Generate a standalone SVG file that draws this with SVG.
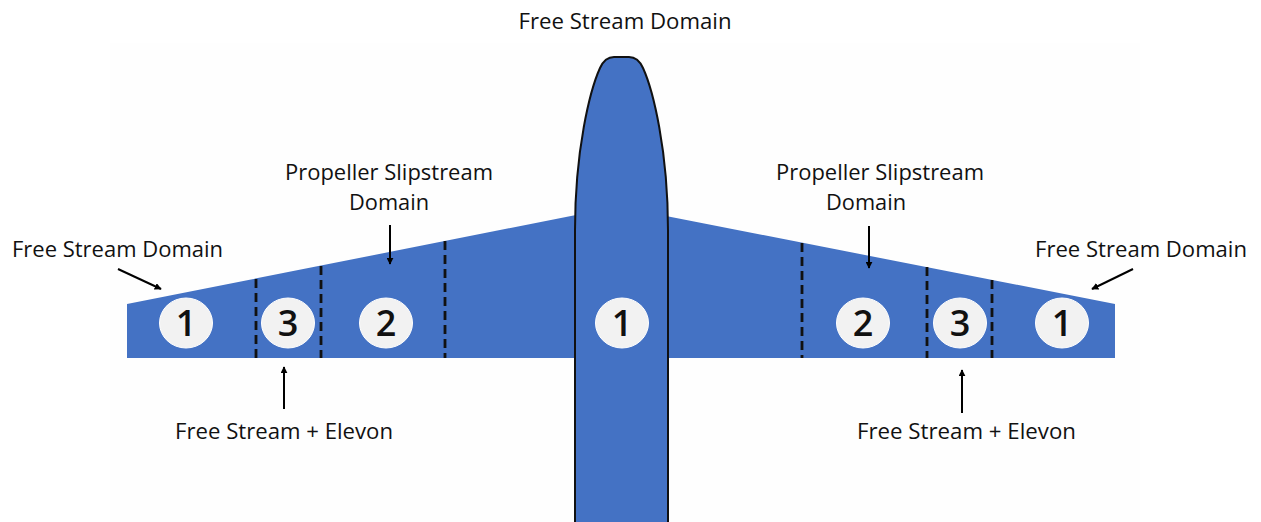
<svg xmlns="http://www.w3.org/2000/svg" width="1261" height="522" viewBox="0 0 1261 522">
  <defs>
    <marker id="arrow" viewBox="0 0 10 10" refX="9" refY="5" markerWidth="7" markerHeight="7" markerUnits="userSpaceOnUse" orient="auto">
      <path d="M0 0 L10 5 L0 10 Z" fill="#000"/>
    </marker>
    <style>
      .body { fill: #4472c4; }
      .hull { fill: #4472c4; stroke: #111; stroke-width: 2; }
      .cut { stroke: #111; stroke-width: 2.8; stroke-dasharray: 9 5; fill: none; }
      .zone ellipse { fill: #f2f2f2; stroke: #ffffff; stroke-width: 1; }
      .zone text { font-family: "Open Sans", "Liberation Sans", sans-serif; font-size: 36px; font-weight: 600; fill: #111; text-anchor: middle; }
      .label { font-family: "Open Sans", "Liberation Sans", sans-serif; font-size: 21.5px; fill: #111; }
      .mid { text-anchor: middle; }
      .lead { stroke: #000; stroke-width: 2; fill: none; marker-end: url(#arrow); }
    </style>
  </defs>

  <rect width="1261" height="522" fill="#ffffff"/>
  <rect x="110" y="43" width="1030" height="479" fill="#fefefe"/>

  <!-- wings -->
  <g id="wing-left">
    <polygon class="body" points="127,304 576,215 576,358 127,358"/>
    <line class="cut" x1="256" y1="279" x2="256" y2="358"/>
    <line class="cut" x1="321" y1="266" x2="321" y2="358"/>
    <line class="cut" x1="445" y1="241" x2="445" y2="358"/>
  </g>
  <g id="wing-right">
    <polygon class="body" points="666,216 1115,304 1115,358 666,358"/>
    <line class="cut" x1="802" y1="243" x2="802" y2="358"/>
    <line class="cut" x1="927" y1="267" x2="927" y2="358"/>
    <line class="cut" x1="992" y1="280" x2="992" y2="358"/>
  </g>

  <!-- fuselage -->
  <g id="fuselage">
    <path class="hull" d="M575 524 L575 230 C575 150 590 90 600 68 Q605 57 614 57 L629 57 Q638 57 643 68 C653 90 668 150 668 230 L668 524 Z"/>
  </g>

  <!-- numbered regions -->
  <g id="zone-l1" class="zone"><ellipse cx="186" cy="323" rx="26.5" ry="25"/><text x="186" y="336">1</text></g>
  <g id="zone-l3" class="zone"><ellipse cx="288" cy="323" rx="26.5" ry="25"/><text x="288" y="336">3</text></g>
  <g id="zone-l2" class="zone"><ellipse cx="386" cy="323" rx="26.5" ry="25"/><text x="386" y="336">2</text></g>
  <g id="zone-c1" class="zone"><ellipse cx="622" cy="323" rx="26.5" ry="25"/><text x="622" y="336">1</text></g>
  <g id="zone-r2" class="zone"><ellipse cx="863" cy="323" rx="26.5" ry="25"/><text x="863" y="336">2</text></g>
  <g id="zone-r3" class="zone"><ellipse cx="960" cy="323" rx="26.5" ry="25"/><text x="960" y="336">3</text></g>
  <g id="zone-r1" class="zone"><ellipse cx="1062" cy="323" rx="26.5" ry="25"/><text x="1062" y="336">1</text></g>

  <!-- labels -->
  <g id="label-top"><text class="label mid" x="625" y="29" textLength="213" lengthAdjust="spacingAndGlyphs">Free Stream Domain</text></g>
  <g id="label-free-left"><text class="label" x="12" y="257" textLength="211" lengthAdjust="spacingAndGlyphs">Free Stream Domain</text></g>
  <g id="label-free-right"><text class="label" x="1035" y="257" textLength="212" lengthAdjust="spacingAndGlyphs">Free Stream Domain</text></g>
  <g id="label-prop-left">
    <text class="label mid" x="389" y="180" textLength="208" lengthAdjust="spacingAndGlyphs">Propeller Slipstream</text>
    <text class="label mid" x="389" y="210" textLength="80" lengthAdjust="spacingAndGlyphs">Domain</text>
  </g>
  <g id="label-prop-right">
    <text class="label mid" x="880" y="180" textLength="208" lengthAdjust="spacingAndGlyphs">Propeller Slipstream</text>
    <text class="label mid" x="866" y="210" textLength="80" lengthAdjust="spacingAndGlyphs">Domain</text>
  </g>
  <g id="label-elev-left"><text class="label" x="175" y="439" textLength="218" lengthAdjust="spacingAndGlyphs">Free Stream + Elevon</text></g>
  <g id="label-elev-right"><text class="label" x="857" y="439" textLength="219" lengthAdjust="spacingAndGlyphs">Free Stream + Elevon</text></g>

  <!-- pointer arrows -->
  <g id="connectors">
    <line class="lead" x1="118" y1="269" x2="161" y2="289"/>
    <line class="lead" x1="1133" y1="269" x2="1092" y2="289"/>
    <line class="lead" x1="390" y1="225" x2="390" y2="264"/>
    <line class="lead" x1="869" y1="226" x2="869" y2="268"/>
    <line class="lead" x1="284" y1="409" x2="284" y2="367"/>
    <line class="lead" x1="962" y1="413" x2="962" y2="370"/>
  </g>
</svg>
